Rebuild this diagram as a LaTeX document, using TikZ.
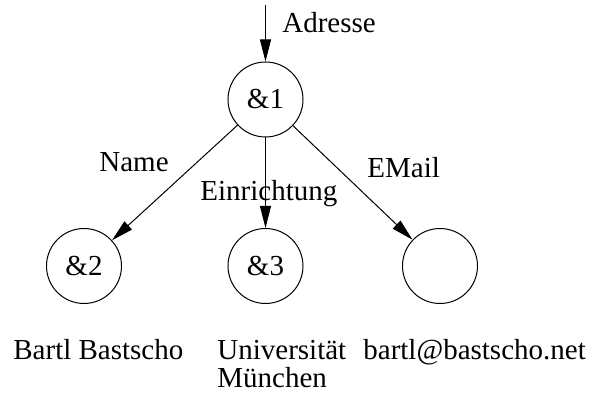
\documentclass[tikz,border=0pt]{standalone}
\usepackage{fontspec}
\setmainfont{Liberation Serif}
\usetikzlibrary{arrows.meta,positioning}

\begin{document}
\begin{tikzpicture}[x=0.5pt,y=-0.5pt,font=\fontsize{14.5}{14}\selectfont,
  obj/.style={draw,circle,minimum size=37.5pt,inner sep=0pt,line width=0.5pt},
  lbl/.style={anchor=base west,inner sep=0pt},
  link/.style={-{Triangle[length=11pt,width=5.5pt]},line width=0.5pt}]
\useasboundingbox (0,0) rectangle (591,394);
% objects
\node[obj] (n1) at (265.5,99.5) {\&1};
\node[obj] (n2) at (84,266) {\&2};
\node[obj] (n3) at (265.5,266) {\&3};
\node[obj] (n4) at (440,266) {};
\coordinate (top) at (265.5,5);
% connectors
\draw[link] (top) -- (n1);
\draw[link] (n1) -- (n2);
\draw[link] (n1) -- (n3);
\draw[link] (n1) -- (n4);
% labels
\node[lbl] (adr) at (282,33) {Adresse};
\node[lbl] (name) at (99,172) {Name};
\node[lbl] (einr) at (200,201) {Einrichtung};
\node[lbl] (mail) at (367,178) {EMail};
% values
\node[lbl] (v1) at (13,360) {Bartl Bastscho};
\node[lbl] (v2) at (217,360) {Universität};
\node[lbl] (v2b) at (217,388) {München};
\node[lbl] (v3) at (363,360) {bartl@bastscho.net};
\end{tikzpicture}
\end{document}
